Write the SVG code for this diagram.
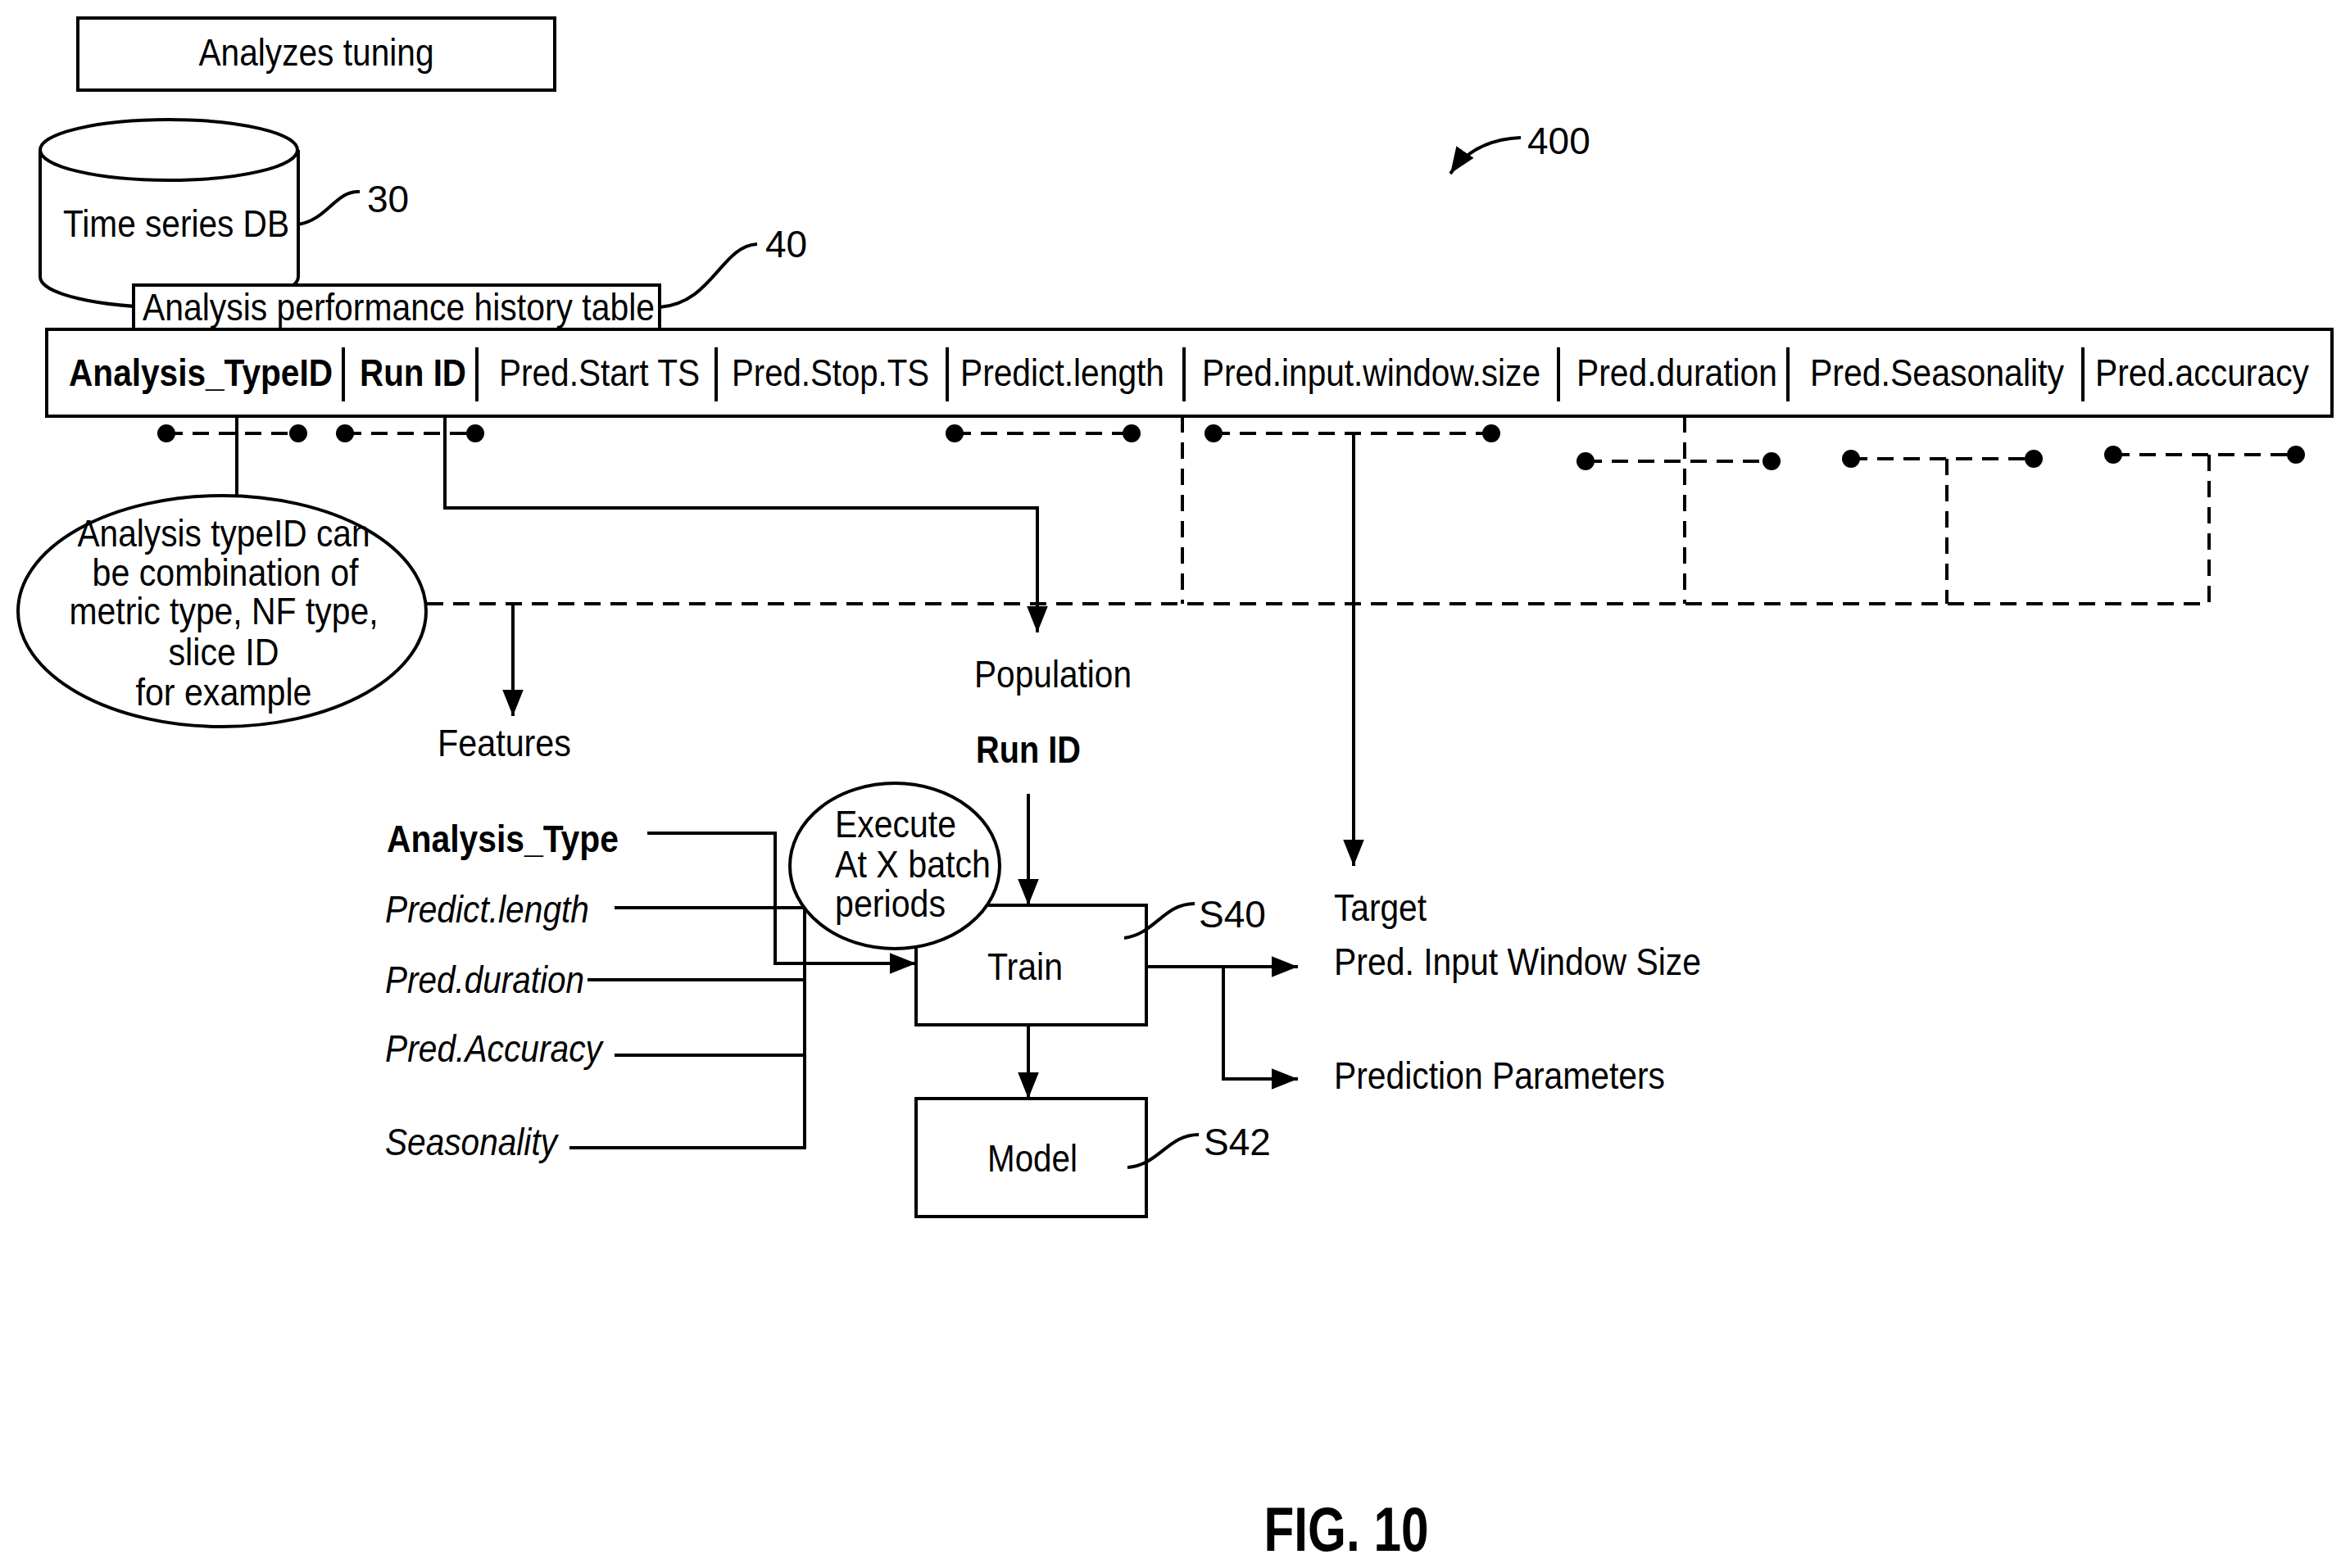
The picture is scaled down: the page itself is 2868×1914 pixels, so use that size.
<svg xmlns="http://www.w3.org/2000/svg" width="2868" height="1914" viewBox="0 0 2868 1914">
<style>
text{font-family:"Liberation Sans",Arial,sans-serif;font-size:46px;fill:#000}
.b{font-weight:bold}.i{font-style:italic}.m{text-anchor:middle}
.s{fill:none;stroke:#000;stroke-width:4}
.d{fill:none;stroke:#000;stroke-width:4;stroke-dasharray:20 12}
.w{fill:#fff;stroke:#000;stroke-width:4}
.dot{fill:#000}
</style>
<defs>
<marker id="ah" viewBox="0 0 10 10" refX="10" refY="5" markerWidth="9" markerHeight="9" markerUnits="userSpaceOnUse" orient="auto"><path d="M0,0 L10,5 L0,10 z"/></marker>
<marker id="a" viewBox="0 0 10 10" refX="10" refY="5" markerWidth="8" markerHeight="8" orient="auto"><path d="M0,1 L10,5 L0,9 z" fill="#000"/></marker>
</defs>

<g id="tuning"><rect class="w" x="95" y="22" width="582" height="88"/><text class="m" x="386" y="80" textLength="287" lengthAdjust="spacingAndGlyphs">Analyzes tuning</text></g>

<g id="db">
<path class="w" d="M49,183 L49,338 A157,37 0 0 0 364,338 L364,183"/>
<ellipse class="w" cx="206" cy="183" rx="157" ry="37"/>
<text x="77" y="289" textLength="276" lengthAdjust="spacingAndGlyphs">Time series DB</text>
<path class="s" d="M364,274 C400,268 410,232 439,234"/>
<text x="448" y="259">30</text>
</g>

<g id="title">
<rect class="w" x="163" y="348" width="642" height="54"/>
<text x="174" y="391" textLength="625" lengthAdjust="spacingAndGlyphs">Analysis performance history table</text>
<path class="s" d="M805,375 C870,370 880,300 924,298"/>
<text x="934" y="314">40</text>
</g>

<g id="table">
<rect class="s" x="57" y="402" width="2789" height="106"/>
<g class="s"><path d="M419,424V490M582,424V490M874,424V490M1156,424V490M1445,424V490M1902,424V490M2182,424V490M2542,424V490"/></g>
<text class="b" x="84" y="471" textLength="322" lengthAdjust="spacingAndGlyphs">Analysis_TypeID</text>
<text class="b" x="439" y="471" textLength="130" lengthAdjust="spacingAndGlyphs">Run ID</text>
<text x="609" y="471" textLength="245" lengthAdjust="spacingAndGlyphs">Pred.Start TS</text>
<text x="893" y="471" textLength="241" lengthAdjust="spacingAndGlyphs">Pred.Stop.TS</text>
<text x="1172" y="471" textLength="249" lengthAdjust="spacingAndGlyphs">Predict.length</text>
<text x="1467" y="471" textLength="413" lengthAdjust="spacingAndGlyphs">Pred.input.window.size</text>
<text x="1924" y="471" textLength="245" lengthAdjust="spacingAndGlyphs">Pred.duration</text>
<text x="2209" y="471" textLength="310" lengthAdjust="spacingAndGlyphs">Pred.Seasonality</text>
<text x="2557" y="471" textLength="261" lengthAdjust="spacingAndGlyphs">Pred.accuracy</text>
</g>

<g id="note">
<ellipse class="w" cx="271" cy="746" rx="249" ry="141"/>
<text class="m" x="273" y="667" textLength="357" lengthAdjust="spacingAndGlyphs">Analysis typeID can</text>
<text class="m" x="275" y="715" textLength="325" lengthAdjust="spacingAndGlyphs">be combination of</text>
<text class="m" x="273" y="762" textLength="377" lengthAdjust="spacingAndGlyphs">metric type, NF type,</text>
<text class="m" x="273" y="812" textLength="135" lengthAdjust="spacingAndGlyphs">slice ID</text>
<text class="m" x="273" y="861" textLength="215" lengthAdjust="spacingAndGlyphs">for example</text>
</g>

<g id="ref400"><text x="1864" y="188">400</text><path class="s" d="M1856,168 C1810,170 1785,190 1770,212" marker-end="url(#a)"/></g>

<g id="connectors">
<g class="d">
<path d="M203,529H364M421,529H580M1165,529H1381M1481,529H1820M1935,563H2162M2259,560H2482M2579,555H2802"/>
<path d="M521,737H2696M1443,508V737M2056,508V737M2376,560V737M2696,555V737"/>
</g>
<g class="dot">
<circle cx="203" cy="529" r="11"/><circle cx="364" cy="529" r="11"/><circle cx="421" cy="529" r="11"/><circle cx="580" cy="529" r="11"/>
<circle cx="1165" cy="529" r="11"/><circle cx="1381" cy="529" r="11"/><circle cx="1481" cy="529" r="11"/><circle cx="1820" cy="529" r="11"/>
<circle cx="1935" cy="563" r="11"/><circle cx="2162" cy="563" r="11"/><circle cx="2259" cy="560" r="11"/><circle cx="2482" cy="560" r="11"/>
<circle cx="2579" cy="555" r="11"/><circle cx="2802" cy="555" r="11"/>
</g>
<path class="s" d="M289,508V605"/>
<path class="s" d="M543,508V620H1266V772" marker-end="url(#a)"/>
<path class="s" d="M626,737V874" marker-end="url(#a)"/>
<path class="s" d="M1652,529V1057" marker-end="url(#a)"/>
<path class="s" d="M1255,969V1105" marker-end="url(#a)"/>
<path class="s" d="M1255,1251V1341" marker-end="url(#a)"/>
<path class="s" d="M1399,1180H1584" marker-end="url(#a)"/>
<path class="s" d="M1493,1180V1317H1584" marker-end="url(#a)"/>
<path class="s" d="M790,1017H946V1176H1118" marker-end="url(#a)"/>
<path class="s" d="M750,1108H982V1401H695M717,1196H982M750,1288H982"/>
</g>

<g id="labels">
<text x="534" y="923" textLength="163" lengthAdjust="spacingAndGlyphs">Features</text>
<text x="1189" y="839" textLength="192" lengthAdjust="spacingAndGlyphs">Population</text>
<text class="b" x="1191" y="931" textLength="128" lengthAdjust="spacingAndGlyphs">Run ID</text>
<text class="b" x="472" y="1040" textLength="283" lengthAdjust="spacingAndGlyphs">Analysis_Type</text>
<text class="i" x="470" y="1126" textLength="249" lengthAdjust="spacingAndGlyphs">Predict.length</text>
<text class="i" x="470" y="1212" textLength="243" lengthAdjust="spacingAndGlyphs">Pred.duration</text>
<text class="i" x="470" y="1296" textLength="265" lengthAdjust="spacingAndGlyphs">Pred.Accuracy</text>
<text class="i" x="470" y="1410" textLength="210" lengthAdjust="spacingAndGlyphs">Seasonality</text>
<text x="1628" y="1124" textLength="113" lengthAdjust="spacingAndGlyphs">Target</text>
<text x="1628" y="1190" textLength="448" lengthAdjust="spacingAndGlyphs">Pred. Input Window Size</text>
<text x="1628" y="1329" textLength="404" lengthAdjust="spacingAndGlyphs">Prediction Parameters</text>
<text class="b m" x="1643" y="1893" style="font-size:76px" textLength="201" lengthAdjust="spacingAndGlyphs">FIG. 10</text>
</g>

<g id="train">
<rect class="w" x="1118" y="1105" width="281" height="146"/>
<text class="m" x="1251" y="1196" textLength="92" lengthAdjust="spacingAndGlyphs">Train</text>
<path class="s" d="M1372,1145 C1410,1140 1420,1103 1458,1103"/>
<text x="1463" y="1132">S40</text>
</g>

<g id="execute">
<ellipse class="w" cx="1092" cy="1057" rx="128" ry="101"/>
<text x="1019" y="1022" textLength="148" lengthAdjust="spacingAndGlyphs">Execute</text>
<text x="1019" y="1071" textLength="190" lengthAdjust="spacingAndGlyphs">At X batch</text>
<text x="1019" y="1119" textLength="135" lengthAdjust="spacingAndGlyphs">periods</text>
</g>

<g id="model">
<rect class="w" x="1118" y="1341" width="281" height="144"/>
<text class="m" x="1260" y="1430" textLength="110" lengthAdjust="spacingAndGlyphs">Model</text>
<path class="s" d="M1376,1425 C1415,1422 1425,1385 1463,1385"/>
<text x="1469" y="1410">S42</text>
</g>
</svg>
